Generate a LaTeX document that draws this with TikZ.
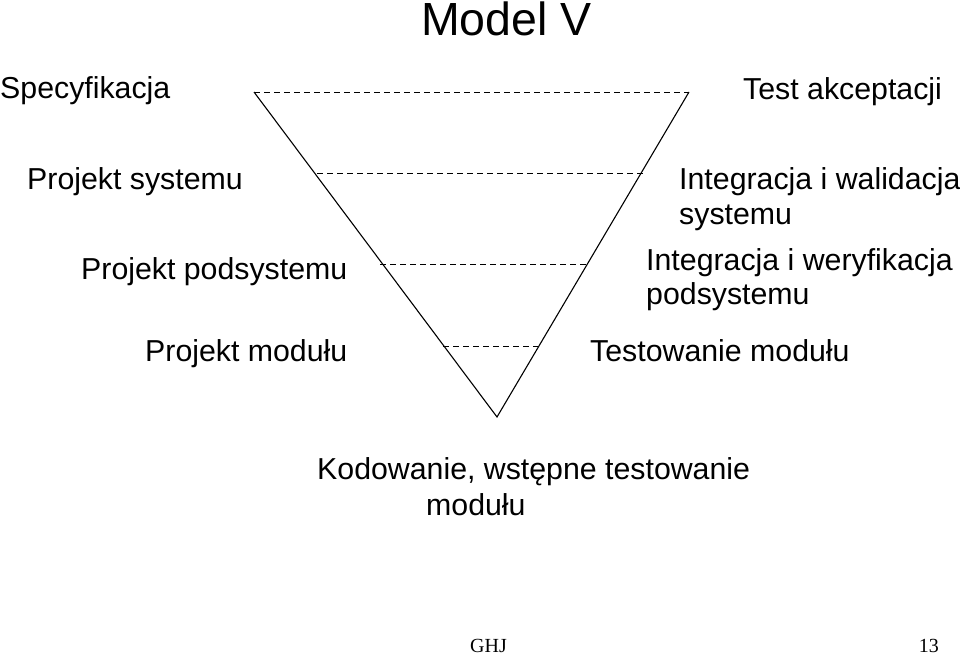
\documentclass[tikz,border=0pt]{standalone}
\usepackage{fontspec}
\setmainfont{Liberation Sans}
\newfontfamily\timesfont{Liberation Serif}
\begin{document}
\begin{tikzpicture}[x=1pt,y=-1pt,
  lbl/.style={anchor=base west,inner sep=0pt,font=\fontsize{30.3}{36}\selectfont},
  ttl/.style={anchor=base west,inner sep=0pt,font=\fontsize{46.5}{56}\selectfont},
  foot/.style={inner sep=0pt,font=\timesfont\fontsize{20}{24}\selectfont},
  vline/.style={line width=1.1pt,black},
  level/.style={line width=0.9pt,dash pattern=on 6pt off 4pt,black}]
\useasboundingbox (0,0) rectangle (960,661);
% V shape
\coordinate (tl) at (254,92);
\coordinate (tr) at (689,92);
\coordinate (bot) at (497,417);
\draw[vline] (tl) -- (bot) -- (tr);
% dashed levels
\coordinate (l1a) at (254,92);  \coordinate (l1b) at (689,92);
\coordinate (l2a) at (317,173); \coordinate (l2b) at (643,173);
\coordinate (l3a) at (380,264); \coordinate (l3b) at (588,264);
\coordinate (l4a) at (443,346); \coordinate (l4b) at (542,346);
\draw[level] (l1a) -- (l1b);
\draw[level] (l2a) -- (l2b);
\draw[level] (l3a) -- (l3b);
\draw[level] (l4a) -- (l4b);
% title
\node[ttl] (title) at (421,36) {Model V};
% left labels
\node[lbl] (spec) at (0,98) {Specyfikacja};
\node[lbl] (psys) at (27,189) {Projekt systemu};
\node[lbl] (ppod) at (81,279) {Projekt podsystemu};
\node[lbl] (pmod) at (145,361) {Projekt modułu};
% right labels
\node[lbl] (test) at (743,99) {Test akceptacji};
\node[lbl] (iw1) at (679,189) {Integracja i walidacja};
\node[lbl] (iw2) at (679,224) {systemu};
\node[lbl] (iv1) at (646,270) {Integracja i weryfikacja};
\node[lbl] (iv2) at (646,304) {podsystemu};
\node[lbl] (tmod) at (590,361) {Testowanie modułu};
% bottom
\node[lbl] (kod1) at (317,479) {Kodowanie, wstępne testowanie};
\node[lbl] (kod2) at (426,515) {modułu};
% footer
\node[foot,anchor=base west] (ghj) at (470,652) {GHJ};
\node[foot,anchor=base east] (page) at (939,652) {13};
\end{tikzpicture}
\end{document}
